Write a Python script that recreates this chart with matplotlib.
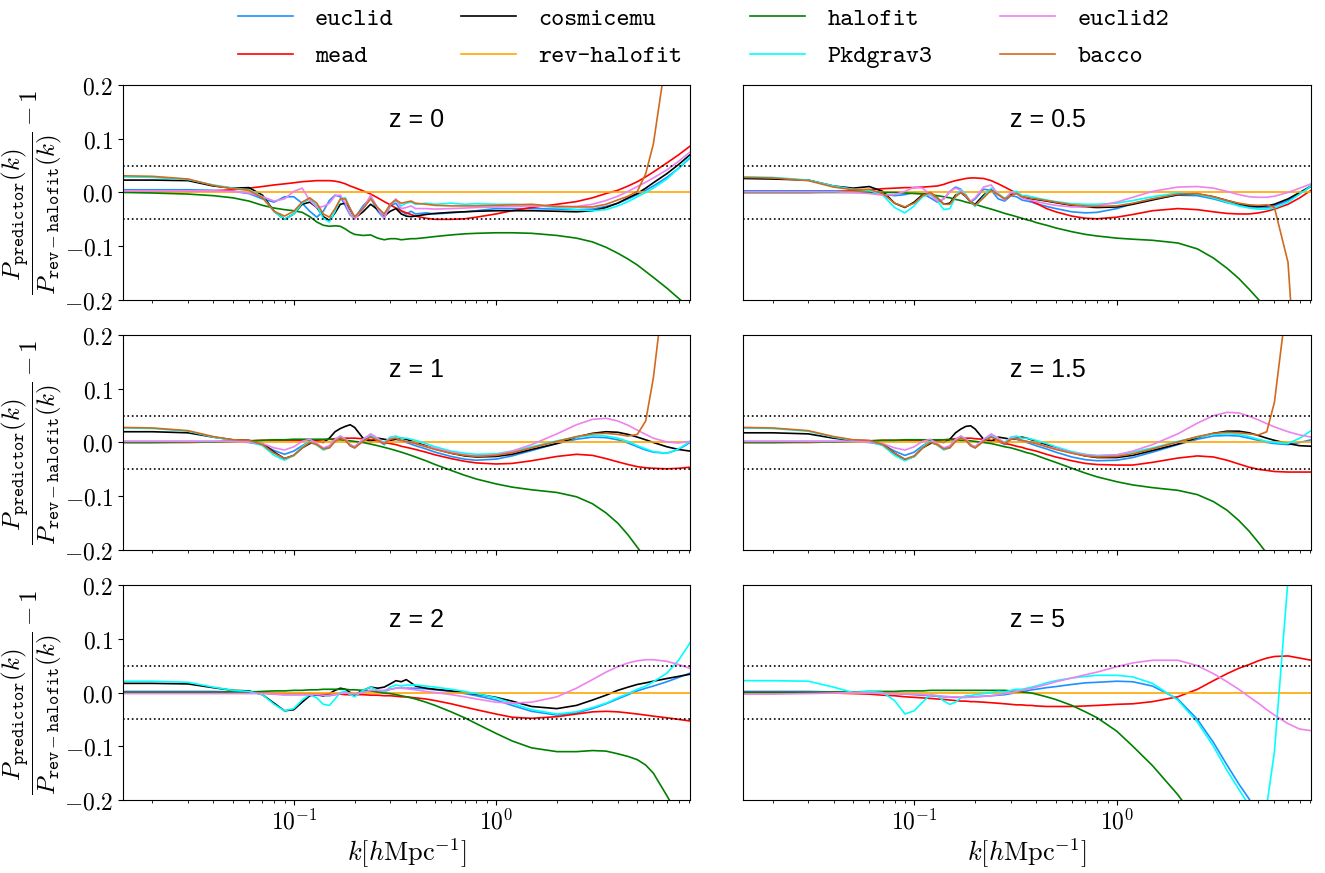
import numpy as np
import matplotlib
matplotlib.use("Agg")
import matplotlib.pyplot as plt
from matplotlib.ticker import FuncFormatter, FixedLocator, NullFormatter

plt.rcParams['mathtext.fontset'] = 'cm'

# wavenumber grid [h/Mpc]
K = [0.0143, 0.02, 0.03, 0.04, 0.05, 0.06, 0.07, 0.08, 0.09, 0.10,
     0.11, 0.12, 0.13, 0.14, 0.15, 0.16, 0.17, 0.18, 0.19, 0.20,
     0.22, 0.24, 0.26, 0.28, 0.30, 0.32, 0.34, 0.36, 0.38, 0.40,
     0.45, 0.50, 0.60, 0.70, 0.80, 1.0, 1.2, 1.5, 2.0, 2.5,
     3.0, 3.5, 4.0, 4.5, 5.0, 5.5, 6.0, 7.0, 8.0, 9.1]

# reference predictor: ratio to itself
REV_HALOFIT = np.zeros(len(K))

# ---------------- z = 0 ----------------
EUCLID_Z0 = [.005, .005, .005, .004, .002, -.002, -.012, -.018, -.008, -.008,
             -.020, -.035, -.046, -.035, -.015, -.005, -.008, -.025, -.042, -.048,
             -.025, -.010, -.035, -.048, -.025, -.020, -.035, -.040, -.035, -.040,
             -.038, -.040, -.038, -.036, -.034, -.030, -.030, -.030, -.031, -.032,
             -.031, -.026, -.020, -.012, -.004, .004, .012, .028, .045, .064]
MEAD_Z0 = [.002, .002, .002, .003, .005, .008, .011, .014, .016, .018,
           .020, .021, .022, .022, .022, .021, .019, .016, .012, .009,
           .003, -.003, -.010, -.017, -.023, -.029, -.034, -.038, -.041, -.044,
           -.048, -.050, -.050, -.049, -.046, -.040, -.034, -.028, -.022, -.017,
           -.010, -.002, .004, .012, .020, .029, .038, .055, .070, .086]
COSMICEMU_Z0 = [.023, .023, .022, .012, .008, .009, -.005, -.035, -.050, -.040,
                -.022, -.018, -.028, -.045, -.052, -.038, -.022, -.020, -.032, -.048,
                -.036, -.022, -.032, -.044, -.035, -.030, -.040, -.044, -.045, -.044,
                -.041, -.039, -.037, -.036, -.035, -.034, -.034, -.034, -.035, -.036,
                -.034, -.028, -.020, -.010, -.002, .008, .018, .035, .052, .070]
HALOFIT_Z0 = [.000, -.001, -.003, -.006, -.010, -.016, -.024, -.029, -.032, -.034,
              -.037, -.045, -.055, -.061, -.063, -.062, -.063, -.068, -.074, -.078,
              -.080, -.079, -.085, -.088, -.086, -.086, -.088, -.087, -.086, -.086,
              -.084, -.082, -.079, -.077, -.076, -.075, -.075, -.076, -.080, -.085,
              -.092, -.102, -.113, -.124, -.135, -.147, -.158, -.178, -.197, -.215]
PKDGRAV3_Z0 = [.029, .028, .024, .014, .008, .005, -.008, -.036, -.050, -.040,
               -.020, -.012, -.025, -.048, -.055, -.035, -.012, -.010, -.030, -.048,
               -.030, -.010, -.028, -.042, -.022, -.015, -.025, -.020, -.018, -.022,
               -.020, -.022, -.020, -.022, -.021, -.022, -.022, -.024, -.028, -.032,
               -.034, -.032, -.025, -.017, -.008, .000, .008, .025, .045, .066]
EUCLID2_Z0 = [.003, .003, .003, .003, .002, -.001, -.008, -.016, -.012, .002,
              .008, -.015, -.028, -.026, -.020, -.006, -.005, -.020, -.040, -.050,
              -.030, -.005, -.030, -.048, -.022, -.012, -.030, -.028, -.025, -.030,
              -.030, -.031, -.030, -.029, -.028, -.027, -.026, -.025, -.026, -.026,
              -.022, -.015, -.007, .002, .011, .019, .027, .042, .058, .075]
BACCO_Z0 = [.031, .030, .025, .013, .007, .004, -.010, -.035, -.044, -.035,
            -.018, -.010, -.020, -.040, -.046, -.030, -.012, -.012, -.030, -.045,
            -.030, -.012, -.028, -.040, -.022, -.014, -.020, -.018, -.016, -.020,
            -.022, -.024, -.025, -.025, -.025, -.024, -.023, -.022, -.026, -.027,
            -.027, -.022, -.014, -.007, .002, .035, .090, .260, .600, 1.20]

# ---------------- z = 0.5 ----------------
EUCLID_Z05 = [.003, .003, .003, .003, .002, .000, -.003, -.006, -.004, .000,
              -.002, -.010, -.018, -.012, .002, .010, .006, -.008, -.018, -.012,
              .006, .004, -.012, -.016, -.006, -.008, -.014, -.016, -.018, -.021,
              -.026, -.030, -.036, -.038, -.037, -.030, -.021, -.012, -.005, -.006,
              -.012, -.019, -.024, -.027, -.028, -.028, -.025, -.015, -.002, .011]
MEAD_Z05 = [.000, .000, .000, .001, .003, .005, .007, .008, .009, .009,
            .010, .011, .012, .015, .019, .022, .024, .026, .027, .027,
            .026, .022, .016, .010, .004, -.001, -.006, -.011, -.016, -.020,
            -.030, -.036, -.044, -.048, -.049, -.046, -.041, -.034, -.030, -.032,
            -.036, -.039, -.040, -.040, -.038, -.035, -.031, -.022, -.010, .004]
COSMICEMU_Z05 = [.026, .025, .023, .012, .008, .011, .002, -.020, -.028, -.018,
                 -.004, .000, -.010, -.022, -.020, -.005, .000, -.008, -.018, -.022,
                 -.005, .006, -.004, -.012, -.004, .000, -.008, -.010, -.012, -.013,
                 -.016, -.019, -.024, -.027, -.028, -.027, -.022, -.014, -.004, -.003,
                 -.008, -.015, -.021, -.025, -.026, -.025, -.022, -.012, .000, .012]
HALOFIT_Z05 = [.000, .000, .000, .000, .000, .000, .000, .000, -.001, -.002,
               -.003, -.004, -.006, -.008, -.010, -.013, -.015, -.018, -.020, -.022,
               -.027, -.031, -.035, -.039, -.042, -.045, -.048, -.051, -.053, -.056,
               -.061, -.066, -.073, -.078, -.081, -.085, -.087, -.089, -.094, -.105,
               -.122, -.141, -.160, -.180, -.199, -.218, -.236, -.270, -.310, -.350]
PKDGRAV3_Z05 = [.029, .028, .023, .012, .006, .004, -.005, -.028, -.038, -.025,
                -.008, -.002, -.015, -.032, -.030, -.008, .006, -.004, -.018, -.026,
                -.008, .008, -.002, -.012, .000, .002, -.006, -.006, -.008, -.010,
                -.014, -.017, -.021, -.022, -.022, -.020, -.015, -.008, -.001, -.003,
                -.010, -.018, -.025, -.029, -.031, -.031, -.029, -.018, -.003, .012]
EUCLID2_Z05 = [.001, .001, .001, .001, .000, -.002, -.005, -.004, .002, .010,
               .008, -.004, -.016, -.012, .002, .008, .004, -.008, -.016, -.010,
               .010, .014, -.004, -.014, .000, -.002, -.010, -.013, -.015, -.017,
               -.021, -.024, -.027, -.027, -.025, -.018, -.009, .002, .010, .011,
               .008, .002, -.004, -.008, -.009, -.009, -.007, .000, .008, .016]
BACCO_Z05 = [.028, .027, .022, .010, .005, .006, -.002, -.020, -.027, -.020,
             -.006, .000, -.010, -.022, -.022, -.008, .000, -.006, -.018, -.024,
             -.010, .004, -.004, -.012, -.006, -.002, -.008, -.009, -.011, -.012,
             -.015, -.018, -.023, -.025, -.026, -.025, -.020, -.012, -.003, -.002,
             -.008, -.015, -.020, -.023, -.024, -.023, -.028, -.130, -.450, -1.00]

# ---------------- z = 1 ----------------
EUCLID_Z1 = [.002, .002, .002, .002, .002, .000, -.004, -.015, -.022, -.016,
             -.006, .002, -.004, -.012, -.008, .004, .010, .004, -.006, -.010,
             .004, .012, .004, -.004, .006, .006, .002, .000, -.003, -.006,
             -.012, -.018, -.026, -.031, -.033, -.031, -.025, -.015, -.002, .006,
             .010, .009, .005, -.001, -.008, -.014, -.018, -.020, -.013, .000]
MEAD_Z1 = [.000, .000, .000, .001, .002, .003, .004, .004, .004, .004,
           .004, .004, .004, .005, .006, .007, .008, .008, .008, .008,
           .007, .005, .002, .000, -.002, -.004, -.007, -.009, -.011, -.013,
           -.018, -.023, -.030, -.035, -.038, -.040, -.039, -.034, -.026, -.022,
           -.024, -.030, -.036, -.041, -.045, -.047, -.048, -.049, -.048, -.046]
COSMICEMU_Z1 = [.020, .020, .018, .010, .005, .004, -.002, -.018, -.030, -.024,
                -.010, -.002, .002, .000, .008, .020, .026, .030, .033, .028,
                .008, .002, .008, .006, .004, .006, .008, .006, .003, .000,
                -.006, -.012, -.020, -.025, -.027, -.026, -.022, -.013, -.002, .010,
                .017, .020, .019, .015, .010, .005, .000, -.008, -.013, -.016]
HALOFIT_Z1 = [.000, .000, .001, .001, .002, .003, .004, .005, .005, .006,
              .006, .006, .006, .006, .006, .005, .005, .004, .003, .002,
              .000, -.003, -.006, -.009, -.012, -.015, -.018, -.021, -.024, -.027,
              -.034, -.041, -.052, -.061, -.068, -.077, -.083, -.088, -.093, -.101,
              -.114, -.131, -.150, -.172, -.195, -.215, -.235, -.270, -.310, -.350]
PKDGRAV3_Z1 = [.027, .026, .021, .010, .004, .002, -.006, -.024, -.033, -.024,
               -.008, .002, -.005, -.014, -.010, .004, .012, .006, -.004, -.008,
               .006, .014, .006, .000, .010, .012, .008, .008, .006, .004,
               -.002, -.008, -.016, -.020, -.022, -.021, -.016, -.008, .003, .010,
               .013, .012, .008, .002, -.006, -.012, -.017, -.020, -.012, .002]
EUCLID2_Z1 = [.002, .002, .002, .002, .002, .001, -.002, -.010, -.014, -.008,
              .002, .006, -.002, -.010, -.006, .006, .012, .006, -.004, -.008,
              .006, .016, .008, -.002, .008, .008, .004, .002, .000, -.002,
              -.007, -.011, -.018, -.023, -.025, -.023, -.016, -.004, .016, .033,
              .043, .045, .040, .032, .023, .015, .008, .001, -.001, .002]
BACCO_Z1 = [.028, .027, .022, .011, .005, .004, -.004, -.020, -.030, -.024,
            -.010, .000, -.004, -.012, -.010, .002, .008, .004, -.006, -.010,
            .002, .010, .004, -.002, .006, .008, .004, .002, .000, -.002,
            -.008, -.013, -.020, -.024, -.026, -.024, -.019, -.010, .002, .011,
            .016, .017, .015, .012, .015, .040, .120, .330, .700, 1.10]

# ---------------- z = 1.5 ----------------
EUCLID_Z15 = [.002, .002, .002, .002, .002, .000, -.004, -.016, -.024, -.018,
              -.006, .002, -.004, -.012, -.008, .004, .010, .004, -.006, -.010,
              .004, .012, .004, -.004, .006, .006, .002, .000, -.003, -.006,
              -.012, -.018, -.027, -.032, -.034, -.033, -.028, -.018, -.004, .006,
              .012, .013, .012, .008, .004, .000, -.002, -.004, .000, .005]
MEAD_Z15 = [.000, .000, .000, .001, .002, .003, .004, .004, .004, .004,
            .004, .004, .004, .005, .006, .007, .008, .008, .008, .007,
            .006, .004, .001, -.002, -.004, -.007, -.009, -.012, -.014, -.016,
            -.022, -.027, -.034, -.039, -.041, -.042, -.042, -.037, -.029, -.025,
            -.027, -.033, -.040, -.046, -.050, -.052, -.054, -.055, -.055, -.055]
COSMICEMU_Z15 = [.018, .018, .016, .008, .004, .003, -.003, -.020, -.032, -.026,
                 -.010, -.002, .002, .000, .006, .018, .025, .030, .031, .025,
                 .006, .002, .010, .008, .006, .008, .010, .008, .005, .002,
                 -.004, -.010, -.019, -.025, -.028, -.028, -.024, -.015, -.003, .009,
                 .017, .021, .021, .018, .013, .008, .004, -.002, -.006, -.007]
HALOFIT_Z15 = [.000, .000, .001, .001, .002, .003, .004, .004, .005, .005,
               .005, .005, .005, .005, .005, .005, .004, .004, .003, .002,
               .000, -.002, -.005, -.008, -.010, -.013, -.016, -.019, -.021, -.024,
               -.031, -.037, -.048, -.057, -.064, -.073, -.079, -.084, -.089, -.097,
               -.110, -.126, -.145, -.165, -.186, -.206, -.225, -.260, -.300, -.340]
PKDGRAV3_Z15 = [.027, .026, .021, .010, .004, .002, -.006, -.024, -.034, -.026,
                -.008, .002, -.005, -.014, -.010, .004, .012, .006, -.004, -.008,
                .006, .014, .006, .000, .010, .012, .008, .008, .006, .004,
                -.002, -.008, -.017, -.022, -.024, -.023, -.018, -.010, .002, .010,
                .015, .016, .015, .011, .006, .002, .000, -.002, .008, .022]
EUCLID2_Z15 = [.002, .002, .002, .002, .002, .001, -.002, -.010, -.014, -.008,
               .002, .006, -.002, -.010, -.006, .006, .012, .006, -.004, -.008,
               .006, .016, .008, -.002, .008, .008, .004, .002, .000, -.002,
               -.007, -.011, -.019, -.023, -.025, -.023, -.016, -.004, .016, .036,
               .050, .056, .055, .049, .042, .035, .029, .020, .014, .010]
BACCO_Z15 = [.028, .027, .022, .011, .005, .004, -.004, -.020, -.031, -.025,
             -.010, .000, -.004, -.012, -.010, .002, .008, .004, -.006, -.010,
             .002, .010, .004, -.002, .006, .008, .004, .002, .000, -.002,
             -.008, -.013, -.020, -.025, -.027, -.026, -.021, -.012, .001, .011,
             .017, .019, .018, .016, .014, .020, .075, .280, .600, 1.00]

# ---------------- z = 2 ----------------
EUCLID_Z2 = [.002, .002, .002, .002, .001, .000, -.001, -.003, -.004, -.004,
             -.004, -.004, -.005, -.006, -.006, -.004, -.002, -.002, -.004, -.005,
             .000, .004, .002, .002, .006, .008, .008, .008, .008, .008,
             .007, .005, .002, -.002, -.006, -.014, -.024, -.035, -.042, -.038,
             -.030, -.021, -.012, -.004, .003, .008, .012, .020, .028, .036]
MEAD_Z2 = [.000, .000, .000, .000, .000, .000, -.001, -.001, -.002, -.002,
           -.002, -.002, -.003, -.003, -.003, -.003, -.003, -.004, -.004, -.004,
           -.004, -.005, -.005, -.006, -.006, -.007, -.008, -.008, -.009, -.010,
           -.012, -.015, -.021, -.027, -.032, -.040, -.046, -.048, -.045, -.040,
           -.036, -.035, -.036, -.038, -.040, -.042, -.044, -.047, -.050, -.053]
COSMICEMU_Z2 = [.017, .017, .016, .009, .004, .003, -.004, -.020, -.034, -.032,
                -.018, -.006, -.004, -.006, -.002, .004, .008, .006, .000, -.004,
                .004, .010, .008, .010, .016, .022, .020, .024, .018, .012,
                .008, .006, .003, .000, -.003, -.009, -.016, -.026, -.030, -.024,
                -.014, -.005, .004, .010, .015, .018, .021, .026, .030, .034]
HALOFIT_Z2 = [.000, .000, .000, .000, .001, .001, .002, .003, .003, .004,
              .004, .005, .005, .006, .006, .006, .006, .006, .005, .005,
              .004, .003, .001, -.001, -.002, -.004, -.006, -.008, -.010, -.012,
              -.018, -.024, -.036, -.047, -.058, -.076, -.090, -.103, -.110, -.110,
              -.108, -.109, -.114, -.119, -.125, -.135, -.150, -.192, -.230, -.270]
PKDGRAV3_Z2 = [.021, .021, .019, .010, .004, .002, -.004, -.022, -.034, -.030,
               -.014, -.004, -.010, -.022, -.024, -.012, .000, .002, -.004, -.008,
               .004, .010, .004, .002, .010, .014, .012, .014, .014, .014,
               .012, .010, .006, .002, -.002, -.010, -.020, -.032, -.040, -.036,
               -.028, -.020, -.010, -.002, .006, .012, .020, .036, .060, .092]
EUCLID2_Z2 = [-.002, -.002, -.002, -.002, -.002, -.002, -.002, -.003, -.004, -.004,
              -.004, -.004, -.004, -.005, -.005, -.004, -.002, -.001, -.002, -.003,
              .000, .004, .004, .004, .006, .008, .008, .007, .006, .005,
              .002, .000, -.004, -.008, -.012, -.018, -.020, -.018, -.008, .008,
              .024, .038, .048, .055, .059, .061, .061, .058, .052, .045]

# ---------------- z = 5 ----------------
EUCLID_Z5 = [.002, .002, .002, .001, .000, -.001, -.001, -.002, -.003, -.004,
             -.005, -.006, -.007, -.008, -.008, -.009, -.009, -.009, -.008, -.008,
             -.007, -.006, -.005, -.004, -.002, .000, .002, .003, .005, .006,
             .009, .011, .015, .018, .019, .021, .020, .012, -.012, -.050,
             -.093, -.135, -.170, -.198, -.230, -.260, -.290, -.340, -.380, -.420]
MEAD_Z5 = [.000, .000, .000, -.001, -.002, -.003, -.005, -.006, -.008, -.009,
           -.010, -.011, -.012, -.013, -.014, -.015, -.016, -.016, -.017, -.017,
           -.018, -.019, -.020, -.021, -.022, -.023, -.023, -.024, -.024, -.025,
           -.026, -.026, -.026, -.025, -.024, -.022, -.021, -.017, -.008, .006,
           .022, .035, .045, .052, .059, .064, .067, .068, .064, .060]
HALOFIT_Z5 = [.000, .000, .000, .001, .001, .002, .002, .002, .003, .003,
              .003, .004, .004, .004, .004, .004, .004, .004, .004, .004,
              .004, .004, .004, .004, .003, .002, .001, .000, -.001, -.003,
              -.008, -.013, -.024, -.036, -.047, -.072, -.100, -.136, -.190, -.240,
              -.290, -.340, -.390, -.440, -.490, -.540, -.590, -.690, -.790, -.900]
PKDGRAV3_Z5 = [.022, .022, .021, .010, .000, .002, .000, -.015, -.040, -.034,
               -.018, -.004, -.006, -.016, -.022, -.018, -.010, -.006, -.006, -.004,
               -.002, .000, .002, .001, .004, .006, .006, .008, .010, .012,
               .018, .022, .027, .030, .032, .032, .029, .017, -.014, -.055,
               -.100, -.145, -.180, -.210, -.240, -.210, -.110, .210, .600, 1.00]
EUCLID2_Z5 = [-.003, -.003, -.002, -.001, .000, -.001, -.002, -.002, -.003, -.003,
              -.004, -.005, -.006, -.007, -.008, -.008, -.009, -.009, -.009, -.008,
              -.007, -.006, -.004, -.002, .000, .002, .004, .006, .008, .010,
              .015, .020, .027, .033, .038, .048, .055, .060, .060, .050,
              .035, .020, .006, -.008, -.020, -.032, -.042, -.058, -.068, -.071]

NAMES = ["euclid", "mead", "cosmicemu", "rev-halofit",
         "halofit", "Pkdgrav3", "euclid2", "bacco"]
COLORS = {"euclid": "dodgerblue", "mead": "red", "cosmicemu": "black",
          "rev-halofit": "orange", "halofit": "green", "Pkdgrav3": "cyan",
          "euclid2": "violet", "bacco": "chocolate"}

PANELS = [
    ("z = 0", {"euclid": EUCLID_Z0, "mead": MEAD_Z0, "cosmicemu": COSMICEMU_Z0,
               "rev-halofit": REV_HALOFIT, "halofit": HALOFIT_Z0,
               "Pkdgrav3": PKDGRAV3_Z0, "euclid2": EUCLID2_Z0, "bacco": BACCO_Z0}),
    ("z = 0.5", {"euclid": EUCLID_Z05, "mead": MEAD_Z05, "cosmicemu": COSMICEMU_Z05,
                 "rev-halofit": REV_HALOFIT, "halofit": HALOFIT_Z05,
                 "Pkdgrav3": PKDGRAV3_Z05, "euclid2": EUCLID2_Z05, "bacco": BACCO_Z05}),
    ("z = 1", {"euclid": EUCLID_Z1, "mead": MEAD_Z1, "cosmicemu": COSMICEMU_Z1,
               "rev-halofit": REV_HALOFIT, "halofit": HALOFIT_Z1,
               "Pkdgrav3": PKDGRAV3_Z1, "euclid2": EUCLID2_Z1, "bacco": BACCO_Z1}),
    ("z = 1.5", {"euclid": EUCLID_Z15, "mead": MEAD_Z15, "cosmicemu": COSMICEMU_Z15,
                 "rev-halofit": REV_HALOFIT, "halofit": HALOFIT_Z15,
                 "Pkdgrav3": PKDGRAV3_Z15, "euclid2": EUCLID2_Z15, "bacco": BACCO_Z15}),
    ("z = 2", {"euclid": EUCLID_Z2, "mead": MEAD_Z2, "cosmicemu": COSMICEMU_Z2,
               "rev-halofit": REV_HALOFIT, "halofit": HALOFIT_Z2,
               "Pkdgrav3": PKDGRAV3_Z2, "euclid2": EUCLID2_Z2}),
    ("z = 5", {"euclid": EUCLID_Z5, "mead": MEAD_Z5,
               "rev-halofit": REV_HALOFIT, "halofit": HALOFIT_Z5,
               "Pkdgrav3": PKDGRAV3_Z5, "euclid2": EUCLID2_Z5}),
]

fig = plt.figure(figsize=(13.25, 8.73), dpi=100)

col_x = [0.0928, 0.5608]
col_w = [0.4279, 0.4287]
row_y = [0.6564, 0.3700, 0.0836]
row_h = 0.2463

ylabel = r'$\dfrac{P_{\mathtt{predictor}}(k)}{P_{\mathtt{rev-halofit}}(k)} - 1$'

axes = []
for i, (title, series) in enumerate(PANELS):
    r, c = divmod(i, 2)
    ax = fig.add_axes([col_x[c], row_y[r], col_w[c], row_h])
    axes.append(ax)
    for name in NAMES:
        if name in series:
            ax.plot(K, series[name], color=COLORS[name], lw=1.2, label=name)
    for lvl in (0.05, -0.05):
        ax.axhline(lvl, color='black', ls=':', lw=1.2)
    ax.set_xscale('log')
    ax.set_xlim(0.0143, 9.1)
    ax.set_ylim(-0.2, 0.2)
    ax.text(0.47, 0.835, title, transform=ax.transAxes, fontsize=18,
            family='Liberation Sans', ha='left', va='center')
    ax.xaxis.set_major_locator(FixedLocator([0.1, 1.0]))
    ax.xaxis.set_major_formatter(
        FuncFormatter(lambda v, p: r'$10^{%d}$' % int(round(np.log10(v)))))
    ax.xaxis.set_minor_formatter(NullFormatter())
    ax.tick_params(axis='both', which='major', labelsize=17)
    if r < 2:
        ax.tick_params(axis='x', which='both', labelbottom=False)
    else:
        ax.set_xlabel(r'$k [h\mathrm{Mpc}^{-1}]$', fontsize=19, labelpad=1)
    if c == 0:
        ax.yaxis.set_major_locator(FixedLocator([-0.2, -0.1, 0.0, 0.1, 0.2]))
        ax.yaxis.set_major_formatter(
            FuncFormatter(lambda v, p: r'$%.1f$' % (round(v, 1) + 0.0)))
        ax.set_ylabel(ylabel, fontsize=18, labelpad=0)
    else:
        ax.tick_params(axis='y', which='both', left=False, labelleft=False)

handles, labels = axes[0].get_legend_handles_labels()
fig.legend(handles, labels, loc='upper center', bbox_to_anchor=(0.531, 1.017),
           ncol=4, frameon=False, prop={'family': 'cmtt10', 'size': 18},
           handlelength=2.2, handletextpad=0.9, columnspacing=2.7,
           labelspacing=0.55)

fig.savefig('out.png', dpi=100)
